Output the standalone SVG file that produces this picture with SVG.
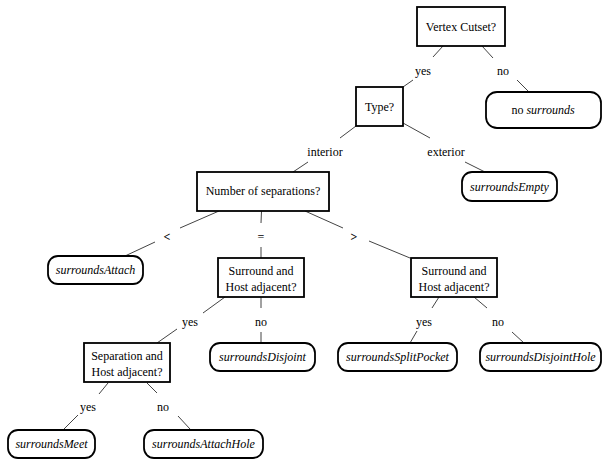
<svg xmlns="http://www.w3.org/2000/svg" width="603" height="462" viewBox="0 0 603 462" font-family="'Liberation Serif', 'Times New Roman', Times, 'DejaVu Serif', serif">
<style>
text{font-family:'Liberation Serif','Times New Roman',Times,'DejaVu Serif',serif;font-size:12px;fill:#000;text-anchor:middle}
.it{font-style:italic}
.sym{font-weight:bold}
.box{fill:#fff;stroke:#000;stroke-width:1.8}
.leaf{fill:#fff;stroke:#000;stroke-width:1.8}
.edge line{stroke:#444;stroke-width:1}
</style>
<rect width="603" height="462" fill="#fff"/>
<g id="connectors" class="edge">
<line x1="443" y1="46" x2="433" y2="57"/><line x1="413" y1="80" x2="403" y2="87"/>
<line x1="482" y1="46" x2="493" y2="58"/><line x1="517" y1="80" x2="529" y2="92"/>
<line x1="356" y1="126" x2="340" y2="138"/><line x1="308" y1="162" x2="293" y2="172"/>
<line x1="403" y1="123" x2="430" y2="138"/><line x1="465" y1="162" x2="485" y2="172"/>
<line x1="219" y1="211" x2="180" y2="228"/><line x1="155" y1="242" x2="125" y2="256"/>
<line x1="261.5" y1="211" x2="261" y2="223"/><line x1="261" y1="247" x2="261" y2="258"/>
<line x1="305" y1="211" x2="343" y2="228"/><line x1="369" y1="241" x2="410" y2="258"/>
<line x1="225" y1="297" x2="203" y2="313"/><line x1="177" y1="329" x2="157" y2="343"/>
<line x1="261" y1="297" x2="261" y2="308"/><line x1="261" y1="332" x2="261" y2="343"/>
<line x1="439" y1="297" x2="432" y2="308"/><line x1="417" y1="331" x2="410" y2="343"/>
<line x1="474" y1="297" x2="487" y2="308"/><line x1="512" y1="332" x2="524" y2="343"/>
<line x1="108" y1="383" x2="99" y2="394"/><line x1="78" y1="415" x2="64" y2="429"/>
<line x1="147" y1="383" x2="157" y2="393"/><line x1="178" y1="416" x2="190" y2="429"/>
<text x="423" y="75">yes</text>
<text x="503" y="75">no</text>
<text x="325" y="156">interior</text>
<text x="446" y="156">exterior</text>
<text class="sym" x="167" y="241">&lt;</text>
<text x="261" y="241">=</text>
<text class="sym" x="354" y="241">&gt;</text>
<text x="190" y="326">yes</text>
<text x="261" y="326">no</text>
<text x="424" y="326">yes</text>
<text x="498" y="326">no</text>
<text x="88" y="411">yes</text>
<text x="163" y="411">no</text>
</g>
<g id="vertexCutset"><rect class="box" x="417" y="7" width="88" height="39"/><text x="461" y="31">Vertex Cutset?</text></g>
<g id="noSurrounds"><rect class="leaf" x="486" y="92" width="115" height="36" rx="11"/><text x="543" y="114">no <tspan class="it">surrounds</tspan></text></g>
<g id="type"><rect class="box" x="356" y="87" width="47" height="39"/><text x="379.5" y="111">Type?</text></g>
<g id="surroundsEmpty"><rect class="leaf" x="462" y="172" width="95" height="29" rx="10"/><text class="it" x="509.5" y="191">surroundsEmpty</text></g>
<g id="numSeparations"><rect class="box" x="197" y="172" width="132" height="39"/><text x="263" y="195">Number of separations?</text></g>
<g id="surroundsAttach"><rect class="leaf" x="48" y="256" width="95" height="28" rx="10"/><text class="it" x="95.5" y="274">surroundsAttach</text></g>
<g id="surroundHostAdj1"><rect class="box" x="218" y="258" width="86" height="39"/><text x="261" y="275">Surround and</text><text x="261" y="291">Host adjacent?</text></g>
<g id="surroundHostAdj2"><rect class="box" x="411" y="258" width="86" height="39"/><text x="454" y="275">Surround and</text><text x="454" y="291">Host adjacent?</text></g>
<g id="separationHostAdj"><rect class="box" x="84" y="343" width="86" height="39"/><text x="127" y="360">Separation and</text><text x="127" y="376">Host adjacent?</text></g>
<g id="surroundsDisjoint"><rect class="leaf" x="210" y="343" width="105" height="28" rx="10"/><text class="it" x="262.5" y="361">surroundsDisjoint</text></g>
<g id="surroundsSplitPocket"><rect class="leaf" x="338" y="343" width="119" height="28" rx="10"/><text class="it" x="397.5" y="361">surroundsSplitPocket</text></g>
<g id="surroundsDisjointHole"><rect class="leaf" x="480" y="343" width="121" height="28" rx="10"/><text class="it" x="540.5" y="361">surroundsDisjointHole</text></g>
<g id="surroundsMeet"><rect class="leaf" x="8" y="430" width="87" height="28" rx="10"/><text class="it" x="51.5" y="448">surroundsMeet</text></g>
<g id="surroundsAttachHole"><rect class="leaf" x="144" y="430" width="119" height="28" rx="10"/><text class="it" x="203.5" y="448">surroundsAttachHole</text></g>
</svg>
